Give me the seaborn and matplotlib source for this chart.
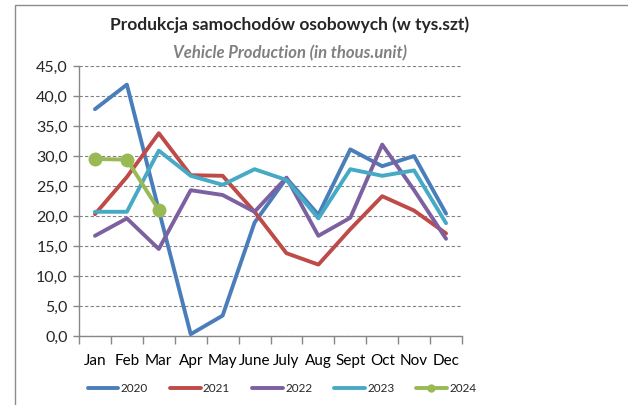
import numpy as np
import pandas as pd
import matplotlib
matplotlib.use("Agg")
import matplotlib.pyplot as plt
import seaborn as sns
from matplotlib.patches import Rectangle
from matplotlib.lines import Line2D
from matplotlib.ticker import FixedLocator, FuncFormatter

months = ["Jan", "Feb", "Mar", "Apr", "May", "June", "July", "Aug", "Sept", "Oct", "Nov", "Dec"]
y2020 = [37.8, 41.9, 21.0, 0.3, 3.4, 18.9, 26.3, 20.2, 31.1, 28.3, 30.0, 20.4]
y2021 = [20.3, 26.5, 33.8, 26.8, 26.7, 20.7, 13.8, 11.9, 17.8, 23.3, 20.9, 17.1]
y2022 = [16.7, 19.6, 14.5, 24.3, 23.5, 20.7, 26.4, 16.7, 19.7, 31.9, 24.3, 16.2]
y2023 = [20.7, 20.7, 30.9, 26.7, 25.2, 27.8, 26.0, 19.6, 27.8, 26.7, 27.6, 18.8]
y2024 = [29.5, 29.4, 21.0]

series = {"2020": y2020, "2021": y2021, "2022": y2022, "2023": y2023, "2024": y2024}
colors = {"2020": "#4A7EBB", "2021": "#BE4B48", "2022": "#7D60A0", "2023": "#46AAC5", "2024": "#98B954"}

rows = []
for yr, vals in series.items():
    for i, v in enumerate(vals):
        rows.append({"month": i, "value": v, "year": yr})
df = pd.DataFrame(rows)

sns.set_theme(style="white")
plt.rcParams["font.family"] = ["Lato", "DejaVu Sans"]

fig = plt.figure(figsize=(6.28, 4.05), dpi=100)
ax = fig.add_axes([79 / 628, 69 / 405, 383 / 628, 270 / 405])

for yr in series:
    sub = df[df.year == yr]
    sns.lineplot(data=sub, x="month", y="value", ax=ax, color=colors[yr], linewidth=2.8,
                 marker="o" if yr == "2024" else None, markersize=10,
                 markeredgewidth=0, legend=False)

ax.set_xlim(-0.5, 11.5)
ax.set_ylim(0, 45)
ax.set_yticks(np.arange(0, 46, 5))
ax.yaxis.set_major_formatter(FuncFormatter(lambda v, p: f"{v:.1f}".replace(".", ",")))
ax.xaxis.set_major_locator(FixedLocator(np.arange(-0.5, 12, 1)))
ax.xaxis.set_minor_locator(FixedLocator(np.arange(12)))
ax.set_xticklabels([])
ax.set_xticklabels(months, minor=True)
ax.tick_params(axis="x", which="major", length=6, width=1, color="#878787", direction="out", bottom=True)
ax.tick_params(axis="x", which="minor", length=0, labelsize=11, pad=13, colors="black")
ax.tick_params(axis="y", length=4, width=1, color="#878787", direction="out", left=True, labelsize=11.5, pad=4)
ax.set_xlabel("")
ax.set_ylabel("")

ax.yaxis.grid(True, linestyle=(0, (3, 2)), color="#808080", linewidth=0.8)
ax.xaxis.grid(False)
for s in ["top", "right"]:
    ax.spines[s].set_visible(False)
for s in ["left", "bottom"]:
    ax.spines[s].set_color("#878787")
    ax.spines[s].set_linewidth(1)

fig.text(290 / 628, 1 - 25 / 405, "Produkcja samochodów osobowych (w tys.szt)",
         ha="center", va="center", fontsize=12.5, fontweight="bold")
fig.text(290 / 628, 1 - 53 / 405, "Vehicle Production (in thous.unit)",
         ha="center", va="center", fontsize=12, fontweight="bold", style="italic", color="#808080")

fig.patches.append(Rectangle((15 / 628, -0.1), 1.2, 1.1 - 5 / 405, transform=fig.transFigure,
                             fill=False, edgecolor="#8c8c8c", linewidth=1))

handles = [Line2D([0], [0], color=colors[yr], linewidth=2.8,
                  marker="o" if yr == "2024" else None, markersize=6, markeredgewidth=0)
           for yr in series]
fig.legend(handles, list(series.keys()), loc="center", bbox_to_anchor=(282 / 628, 1 - 389 / 405),
           ncol=5, frameon=False, fontsize=8.5, handlelength=2.6, handletextpad=0.2,
           columnspacing=1.85)

fig.savefig("out.png", dpi=100)
